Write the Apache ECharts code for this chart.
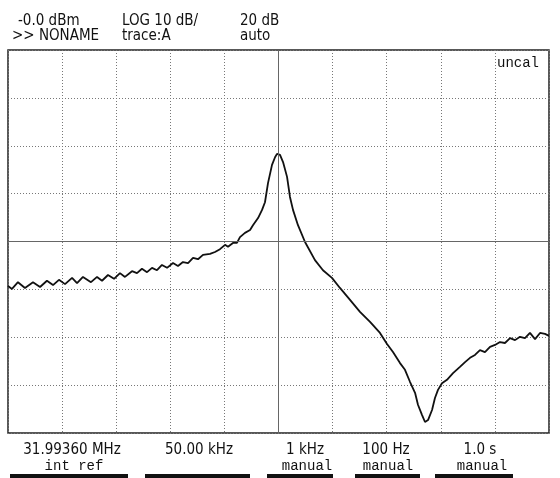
<!DOCTYPE html>
<html>
<head>
<meta charset="utf-8">
<title>Spectrum trace</title>
<script src="https://cdn.jsdelivr.net/npm/echarts@6/dist/echarts.min.js"></script>
<style>
  html, body { margin: 0; padding: 0; background: #fff; }
  #chart { width: 560px; height: 478px; }
</style>
</head>
<body>
<div id="chart"></div>
<script>
// frequency offset from centre (kHz) and level (dBm)
const freqKHz = [
  -25.00, -24.63, -24.08, -23.43, -22.69, -22.04, -21.40, -20.84, -20.29, -19.73,
  -19.08, -18.62, -18.07, -17.33, -16.77, -16.31, -15.76, -15.20, -14.65, -14.19,
  -13.54, -13.08, -12.62, -12.15, -11.69, -11.23, -10.77, -10.30, -9.75, -9.29,
  -8.83, -8.36, -7.90, -7.44, -6.98, -6.33, -5.87, -5.41, -4.94, -4.67,
  -4.21, -3.84, -3.56, -3.10, -2.63, -2.36, -1.89, -1.52, -1.25, -0.97,
  -0.60, -0.32, -0.14, 0.14, 0.42, 0.79, 1.06, 1.34, 1.80, 2.45,
  3.37, 4.11, 4.94, 5.68, 6.61, 7.53, 8.46, 9.38, 10.03, 10.58,
  11.23, 11.69, 12.15, 12.62, 12.89, 13.26, 13.54, 13.82, 14.19, 14.46,
  14.74, 15.11, 15.57, 16.13, 16.77, 17.24, 17.70, 18.16, 18.62, 19.08,
  19.55, 20.01, 20.47, 20.93, 21.40, 21.86, 22.32, 22.78, 23.24, 23.71,
  24.17, 24.63, 25.00
]
const levelDb = [
  -49.3, -49.9, -48.5, -49.7, -48.5, -49.5, -48.2, -49.1, -48.0, -48.9,
  -47.6, -48.7, -47.4, -48.5, -47.4, -48.2, -47.0, -47.8, -46.6, -47.4,
  -46.2, -46.6, -45.7, -46.4, -45.5, -46.0, -44.9, -45.5, -44.5, -45.1,
  -44.3, -44.5, -43.4, -43.7, -42.8, -42.6, -42.2, -41.6, -40.7, -41.1,
  -40.3, -40.3, -39.1, -38.2, -37.6, -36.6, -35.1, -33.4, -31.8, -27.8,
  -24.0, -22.4, -21.7, -21.9, -23.4, -26.5, -30.7, -33.4, -36.6, -40.1,
  -43.9, -46.0, -47.6, -49.7, -52.2, -54.7, -56.8, -59.1, -61.4, -63.1,
  -65.4, -66.8, -69.3, -71.6, -74.1, -76.2, -77.7, -77.3, -75.2, -72.7,
  -71.0, -69.6, -68.9, -67.5, -66.2, -65.2, -64.3, -63.7, -62.7, -63.1,
  -62.0, -61.6, -61.0, -61.2, -60.2, -60.6, -59.9, -60.2, -59.1, -60.4,
  -59.1, -59.3, -59.7
]

const headerTop = ['-0.0 dBm', 'LOG 10 dB/', '20 dB']
const headerBottom = ['>> NONAME', 'trace:A', 'auto']
const footerTop = ['31.99360 MHz', '50.00 kHz', '1 kHz', '100 Hz', '1.0 s']
const footerBottom = ['int ref', '', 'manual', 'manual', 'manual']

const sansFont = "'Liberation Sans Narrow', 'DejaVu Sans Condensed', 'Liberation Sans', sans-serif"
const monoFont = "'Liberation Mono', 'DejaVu Sans Mono', monospace"

const chart = echarts.init(document.getElementById('chart'))

// text positions
const headerX = [18, 122, 240]
const footerX = [72, 199, 305, 386, 480]
const keyBars = [[10, 118], [145, 105], [267, 66], [355, 65], [435, 78]]

const graphics = []
headerTop.forEach((t, i) => {
  graphics.push({ type: 'text', left: headerX[i], top: 14, style: { text: t, font: '15px ' + sansFont, fill: '#111' } })
})
headerBottom.forEach((t, i) => {
  graphics.push({ type: 'text', left: headerX[i] - (i === 0 ? 6 : 0), top: 29, style: { text: t, font: '15px ' + sansFont, fill: '#111' } })
})
footerTop.forEach((t, i) => {
  graphics.push({ type: 'text', x: footerX[i], y: 443, style: { text: t, font: '15px ' + sansFont, fill: '#111', align: 'center' } })
})
footerBottom.forEach((t, i) => {
  if (!t) return
  graphics.push({ type: 'text', x: footerX[i] + 2, y: 459, style: { text: t, font: '14px ' + monoFont, fill: '#111', align: 'center' } })
})
keyBars.forEach(b => {
  graphics.push({ type: 'rect', shape: { x: b[0], y: 474, width: b[1], height: 4 }, style: { fill: '#111' } })
})
graphics.push({ type: 'text', x: 497, y: 56, style: { text: 'uncal', font: '14px ' + monoFont, fill: '#111' } })

chart.setOption({
  backgroundColor: '#fff',
  animation: false,
  grid: {
    left: 8,
    top: 50,
    right: 11,
    bottom: 45,
    show: true,
    borderColor: '#222',
    borderWidth: 1.5,
    backgroundColor: 'transparent'
  },
  xAxis: {
    type: 'value',
    min: -25,
    max: 25,
    interval: 5,
    axisLine: { show: false },
    axisTick: { show: false },
    axisLabel: { show: false },
    splitLine: { show: true, lineStyle: { color: '#777', type: [1, 2], width: 1 } }
  },
  yAxis: {
    type: 'value',
    min: -80,
    max: 0,
    interval: 10,
    axisLine: { show: false },
    axisTick: { show: false },
    axisLabel: { show: false },
    splitLine: { show: true, lineStyle: { color: '#777', type: [1, 2], width: 1 } }
  },
  series: [{
    type: 'line',
    data: freqKHz.map((f, i) => [f, levelDb[i]]),
    showSymbol: false,
    smooth: false,
    lineStyle: { color: '#111', width: 1.8 },
    markLine: {
      silent: true,
      symbol: 'none',
      label: { show: false },
      lineStyle: { color: '#666', type: 'solid', width: 1 },
      data: [{ xAxis: 0 }, { yAxis: -40 }]
    }
  }],
  graphic: graphics
})
</script>
</body>
</html>
